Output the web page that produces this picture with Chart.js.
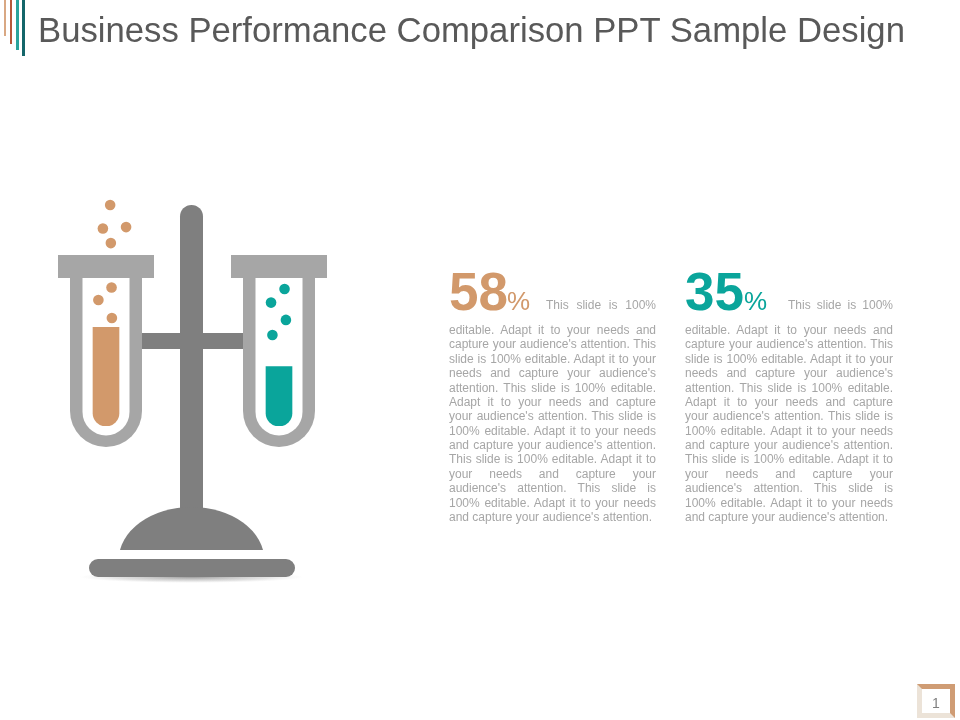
<!DOCTYPE html>
<html>
<head>
<meta charset="utf-8">
<title>Business Performance Comparison</title>
<script src="https://cdn.jsdelivr.net/npm/chart.js@4/dist/chart.umd.min.js"></script>
<style>
    html, body { margin: 0; padding: 0; background: #fff; }
    #page { position: relative; width: 960px; height: 720px; overflow: hidden; font-family: "Liberation Sans", Arial, sans-serif; }
    canvas { position: absolute; left: 0; top: 0; }
    .abs { position: absolute; white-space: nowrap; }
    #title { left: 38px; top: 10px; font-size: 34.7px; line-height: 40px; color: #595959; }
    .strip { position: absolute; top: 0; }
    .big { font-size: 53px; font-weight: bold; line-height: 52px; }
    .pct { font-size: 26px; line-height: 26px; }
    .line { position: absolute; font-size: 12px; line-height: 14px; color: #a6a6a6; white-space: normal; text-align: justify; text-align-last: justify; }
    .line.last { text-align-last: left; }
    #pageBox { left: 917px; top: 684px; width: 38px; height: 34px; box-sizing: border-box; border: 5px solid; border-color: #cf9c74 #cf9c74 #ece3d8 #ece3d8; }
    #pageNo { left: 917px; width: 38px; top: 694px; text-align: center; font-size: 14px; line-height: 18px; color: #7f7f7f; }
</style>
</head>
<body>
<div id="page">
    <canvas id="tubes" width="960" height="720"></canvas>
    <div class="abs" id="title"></div>
    <div class="strip" style="left:4px;width:2px;height:36px;background:#d9a883"></div>
    <div class="strip" style="left:10px;width:2px;height:44px;background:#b5583a"></div>
    <div class="strip" style="left:16px;width:3px;height:50px;background:#2aa39b"></div>
    <div class="strip" style="left:22px;width:3px;height:56px;background:#14666a"></div>
    <div class="abs" id="pageBox"></div>
    <div class="abs" id="pageNo">1</div>
</div>
<script>
// Data
const categories = ['Left tube', 'Right tube'];
const fillValues = [58, 35];
const fillColors = ['#d2996b', '#0aa59b'];
const orangeBubbleX = [26.2, 24.1, 30.8, 26.4, 26.6, 22.8, 26.7];
const orangeBubbleY = [130, 116.2, 117, 107.6, 81.5, 74.1, 63.5];
const tealBubbleX = [76.6, 72.7, 77.0, 73.1];
const tealBubbleY = [80.6, 72.6, 62.4, 53.5];

// Text
const titleText = 'Business Performance Comparison PPT Sample Design';
const firstLine = 'This slide is 100%';
const bodyLines = [
    'editable. Adapt it to your needs and',
    "capture your audience's attention. This",
    'slide is 100% editable. Adapt it to your',
    "needs and capture your audience's",
    'attention. This slide is 100% editable.',
    'Adapt it to your needs and capture',
    "your audience's attention. This slide is",
    '100% editable. Adapt it to your needs',
    "and capture your audience's attention.",
    'This slide is 100% editable. Adapt it to',
    'your needs and capture your',
    "audience's attention. This slide is",
    '100% editable. Adapt it to your needs',
    "and capture your audience's attention."
];

const page = document.getElementById('page');
document.getElementById('title').textContent = titleText;

function addText(cls, text, left, top, width, color) {
    const el = document.createElement('div');
    el.className = cls;
    el.textContent = text;
    el.style.left = left + 'px';
    el.style.top = top + 'px';
    if (width) el.style.width = width + 'px';
    if (color) el.style.color = color;
    page.appendChild(el);
}

// Text columns, one for each tube
const columns = [
    { left: 449, width: 207, firstLeft: 546, pctLeft: 507 },
    { left: 685, width: 208, firstLeft: 788, pctLeft: 744 }
];
columns.forEach((col, i) => {
    addText('abs big', String(fillValues[i]), col.left, 266, 0, fillColors[i]);
    addText('abs pct', '%', col.pctLeft, 288, 0, fillColors[i]);
    addText('line', firstLine, col.firstLeft, 298, col.left + col.width - col.firstLeft);
    bodyLines.forEach((line, j) => {
        const cls = j === bodyLines.length - 1 ? 'line last' : 'line';
        addText(cls, line, col.left, 323 + j * 14.38, col.width);
    });
});

// Stand and glass, hung off the chart's own scales
const glassPlugin = {
    id: 'glass',
    beforeDatasetsDraw(chart) {
        const ctx = chart.ctx;
        const x = chart.scales.x;
        const zero = chart.scales.y.getPixelForValue(0);
        const left = x.getPixelForValue(0);
        const right = x.getPixelForValue(1);
        const mid = (left + right) / 2 - 1;

        ctx.save();
        // shadow under the base
        ctx.save();
        ctx.translate(mid, 577);
        ctx.scale(1, 6 / 112);
        const shadow = ctx.createRadialGradient(0, 0, 0, 0, 0, 112);
        shadow.addColorStop(0, 'rgba(90,90,90,0.6)');
        shadow.addColorStop(0.7, 'rgba(150,150,150,0.25)');
        shadow.addColorStop(1, 'rgba(200,200,200,0)');
        ctx.fillStyle = shadow;
        ctx.beginPath();
        ctx.arc(0, 0, 112, 0, Math.PI * 2);
        ctx.fill();
        ctx.restore();

        ctx.fillStyle = '#7f7f7f';
        // pole and cross bar
        ctx.beginPath();
        ctx.roundRect(mid - 11.5, 205, 23, 310, [11.5, 11.5, 0, 0]);
        ctx.fill();
        ctx.fillRect(left + 30, 333, right - left - 60, 16);
        // dome
        ctx.save();
        ctx.beginPath();
        ctx.rect(mid - 80, 500, 160, 50);
        ctx.clip();
        ctx.beginPath();
        ctx.ellipse(mid, 560, 72.8, 53, 0, 0, Math.PI * 2);
        ctx.fill();
        ctx.restore();
        // foot
        ctx.beginPath();
        ctx.roundRect(mid - 102.5, 559, 206, 18, 9);
        ctx.fill();

        // tubes
        [left, right].forEach(cx => {
            ctx.fillStyle = '#a6a6a6';
            ctx.beginPath();
            ctx.moveTo(cx - 36, 270);
            ctx.lineTo(cx + 36, 270);
            ctx.lineTo(cx + 36, zero - 15);
            ctx.arc(cx, zero - 15, 36, 0, Math.PI);
            ctx.closePath();
            ctx.fill();
            ctx.fillStyle = '#ffffff';
            ctx.beginPath();
            ctx.moveTo(cx - 23.5, 270);
            ctx.lineTo(cx + 23.5, 270);
            ctx.lineTo(cx + 23.5, zero - 14);
            ctx.arc(cx, zero - 14, 23.5, 0, Math.PI);
            ctx.closePath();
            ctx.fill();
            ctx.fillStyle = '#a6a6a6';
            ctx.fillRect(cx - 48, 255, 96, 23);
        });
        ctx.restore();
    }
};

const toPoints = (xs, ys) => xs.map((x, i) => ({ x: x, y: ys[i] }));

new Chart(document.getElementById('tubes').getContext('2d'), {
    data: {
        labels: categories,
        datasets: [
            {
                type: 'bar',
                data: fillValues,
                backgroundColor: fillColors,
                barThickness: 26,
                grouped: false,
                borderSkipped: false,
                borderRadius: { topLeft: 0, topRight: 0, bottomLeft: 13, bottomRight: 13 }
            },
            {
                type: 'scatter',
                xAxisID: 'xb',
                data: toPoints(orangeBubbleX, orangeBubbleY),
                backgroundColor: fillColors[0],
                borderWidth: 0,
                pointRadius: 5.3
            },
            {
                type: 'scatter',
                xAxisID: 'xb',
                data: toPoints(tealBubbleX, tealBubbleY),
                backgroundColor: fillColors[1],
                borderWidth: 0,
                pointRadius: 5.3
            }
        ]
    },
    options: {
        responsive: false,
        animation: false,
        layout: { padding: { left: 19.5, right: 594.5, top: 188, bottom: 294 } },
        plugins: {
            legend: { display: false },
            tooltip: { enabled: false }
        },
        scales: {
            x: { type: 'category', display: false },
            xb: { type: 'linear', display: false, min: 0, max: 100 },
            y: { display: false, min: 0, max: 140 }
        }
    },
    plugins: [glassPlugin]
});
</script>
</body>
</html>
